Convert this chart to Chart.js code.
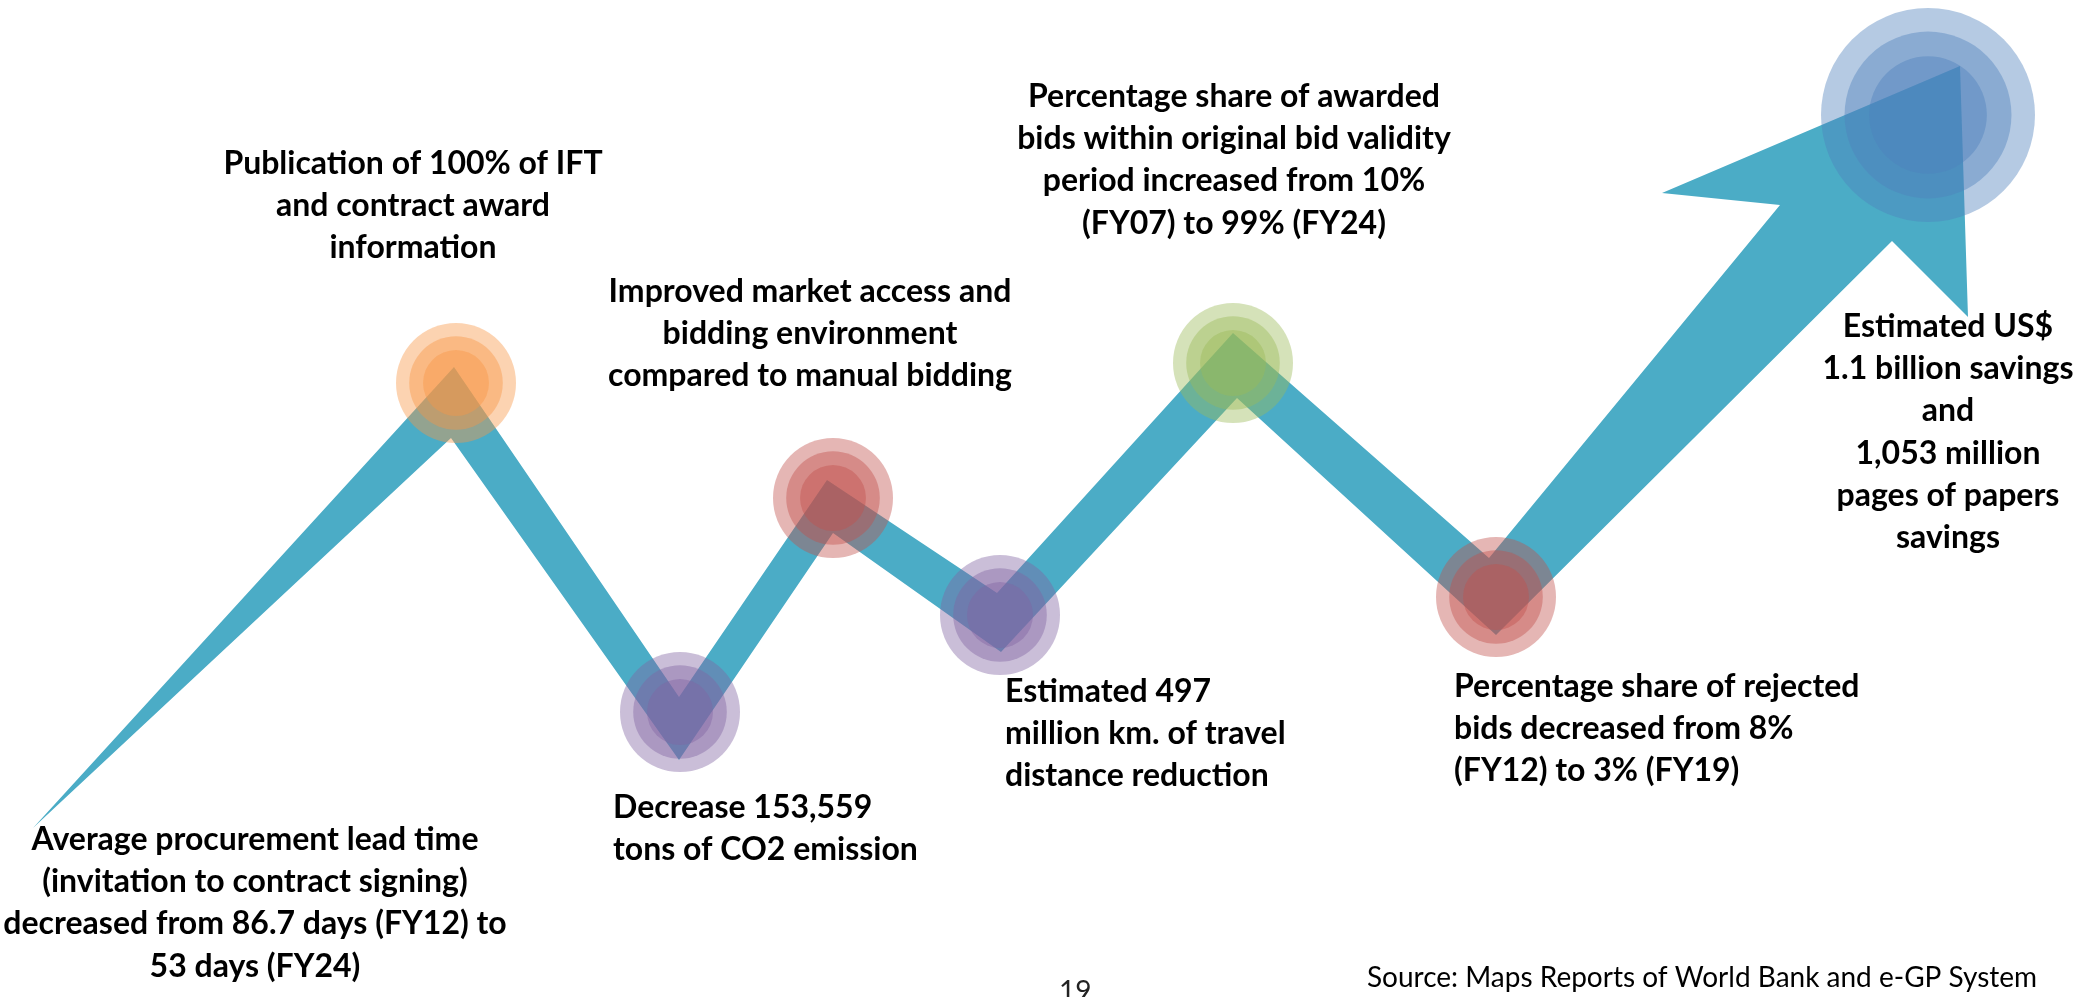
<!DOCTYPE html>
<html>
<head>
<meta charset="utf-8">
<script src="https://cdn.jsdelivr.net/npm/chart.js@4.4.1/dist/chart.umd.min.js"></script>
<style>
  html, body { margin: 0; padding: 0; background: #ffffff; }
  #wrap { position: relative; width: 2080px; height: 997px; }
</style>
</head>
<body>
<div id="wrap"><canvas id="c"></canvas></div>
<script>
// ---- Milestones (circle markers) ----
const milestoneX = [456, 680, 833, 1000, 1233, 1496, 1928];
const milestoneY = [383, 712, 498, 615, 363, 597, 115];
const milestoneColor = ['247,150,70', '128,100,162', '192,80,77', '128,100,162', '155,187,89', '192,80,77', '79,129,189'];

// ---- Growth trend band (upper / lower edges) ----
const upperX = [33, 454, 679, 827, 997, 1233, 1489];
const upperY = [828, 367, 697, 480, 593, 333, 558];
const lowerX = [33, 451, 679, 833, 1001, 1237, 1496];
const lowerY = [828, 438, 760, 533, 652, 398, 635];
// arrow head: shaft corner, wing, tip, wing, shaft corner
const headX = [1780, 1662, 1960, 1968, 1892];
const headY = [205, 193, 66, 317, 241];

// ---- Annotations ----
const noteLines = [
  ['Publication of 100% of IFT', 'and contract award', 'information'],
  ['Improved market access and', 'bidding environment', 'compared to manual bidding'],
  ['Percentage share of awarded', 'bids within original bid validity', 'period increased from 10%', '(FY07) to 99% (FY24)'],
  ['Estimated US$', '1.1 billion savings', 'and', '1,053 million', 'pages of papers', 'savings'],
  ['Average procurement lead time', '(invitation to contract signing)', 'decreased from 86.7 days (FY12) to', '53 days (FY24)'],
  ['Decrease 153,559', 'tons of CO2 emission'],
  ['Estimated 497', 'million km. of travel', 'distance reduction'],
  ['Percentage share of rejected', 'bids decreased from 8%', '(FY12) to 3% (FY19)']
];
const noteX = [413, 810, 1234, 1948, 255, 613, 1005, 1454];
const noteY = [174, 302, 107, 337, 850, 818, 702, 697];
const noteAlign = ['center', 'center', 'center', 'center', 'center', 'left', 'left', 'left'];
const sourceText = 'Source: Maps Reports of World Bank and e-GP System';
const pageNumber = '19';

// ---- build datasets ----
const milestones = milestoneX.map((x, i) => ({x, y: milestoneY[i]}));
const bandOutline = [
  ...upperX.map((x, i) => ({x, y: upperY[i]})),
  ...headX.map((x, i) => ({x, y: headY[i]})),
  ...lowerX.map((x, i) => ({x, y: lowerY[i]})).reverse()
];

function ringDataset(scale, order) {
  return {
    type: 'scatter',
    data: milestones,
    order: order,
    pointRadius: ctx => (ctx.dataIndex === 6 ? 107 : 60) * scale,
    pointHoverRadius: ctx => (ctx.dataIndex === 6 ? 107 : 60) * scale,
    pointBackgroundColor: milestoneColor.map(c => 'rgba(' + c + ',0.42)'),
    pointBorderWidth: 0,
    pointBorderColor: 'rgba(0,0,0,0)',
    showLine: false,
    clip: false
  };
}

const notesPlugin = {
  id: 'notes',
  afterDraw(chart) {
    const {ctx} = chart;
    const xs = chart.scales.x, ys = chart.scales.y;
    ctx.save();
    ctx.fillStyle = '#000000';
    ctx.textBaseline = 'alphabetic';
    ctx.font = 'bold 32px Lato';
    noteLines.forEach((lines, i) => {
      ctx.textAlign = noteAlign[i];
      lines.forEach((t, k) => {
        ctx.fillText(t, xs.getPixelForValue(noteX[i]), ys.getPixelForValue(noteY[i] + k * 42.2));
      });
    });
    ctx.textAlign = 'left';
    ctx.font = '28px Lato';
    ctx.fillText(sourceText, xs.getPixelForValue(1367), ys.getPixelForValue(987));
    ctx.fillStyle = '#222222';
    ctx.font = '28px Lato';
    ctx.fillText(pageNumber, xs.getPixelForValue(1059), ys.getPixelForValue(1001));
    ctx.restore();
  }
};

new Chart(document.getElementById('c'), {
  type: 'scatter',
  data: {
    datasets: [
      ringDataset(0.55, 1),
      ringDataset(0.78, 2),
      ringDataset(1.0, 3),
      {
        type: 'scatter',
        data: bandOutline,
        order: 10,
        showLine: true,
        fill: 'shape',
        backgroundColor: '#4BACC6',
        borderColor: 'rgba(0,0,0,0)',
        borderWidth: 0,
        pointRadius: 0,
        pointHoverRadius: 0,
        tension: 0,
        clip: false
      }
    ]
  },
  options: {
    responsive: true,
    maintainAspectRatio: false,
    animation: false,
    events: [],
    layout: { padding: 0, autoPadding: false },
    plugins: { legend: { display: false }, tooltip: { enabled: false } },
    scales: {
      x: { type: 'linear', min: 0, max: 2080, display: false },
      y: { type: 'linear', min: 0, max: 997, reverse: true, display: false }
    }
  },
  plugins: [notesPlugin]
});
</script>
</body>
</html>
